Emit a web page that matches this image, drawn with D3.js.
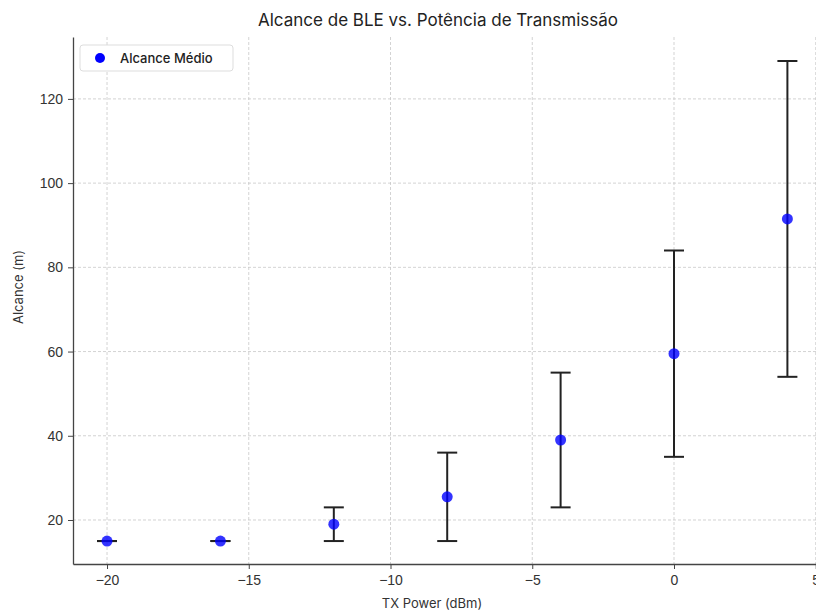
<!DOCTYPE html>
<html>
<head>
<meta charset="utf-8">
<script src="https://cdn.jsdelivr.net/npm/d3@7"></script>
<style>
  body { margin: 0; background: #fff; }
  svg { font-family: "Inter", "Open Sans", sans-serif; }
  .grid line { stroke: #c8c8c8; stroke-dasharray: 3,2; stroke-width: 0.8; }
  .axis path, .axis line { stroke: #444; }
  .axis text { fill: #333; font-size: 14px; }
</style>
</head>
<body>
<div id="chart"></div>
<script>
// data
const txPower = [-20, -16, -12, -8, -4, 0, 4];
const rangeMean = [15, 15, 19, 25.5, 39, 59.5, 91.5];
const rangeLow = [15, 15, 15, 15, 23, 35, 54];
const rangeHigh = [15, 15, 23, 36, 55, 84, 129];
const xTicks = [-20, -15, -10, -5, 0, 5];
const yTicks = [20, 40, 60, 80, 100, 120];

const W = 816, H = 612;
const margin = {top: 37, right: -4, bottom: 48, left: 73};

const svg = d3.select("#chart").append("svg")
  .attr("width", W).attr("height", H);

const x = d3.scaleLinear()
  .domain([-21.2, 5.15])
  .range([margin.left, W - margin.right]);
const y = d3.scaleLinear()
  .domain([9.55, 134.7])
  .range([H - margin.bottom, margin.top]);

// grid
const grid = svg.append("g").attr("class", "grid");
grid.selectAll(".gx").data(xTicks).join("line")
  .attr("x1", d => x(d)).attr("x2", d => x(d))
  .attr("y1", y.range()[1]).attr("y2", y.range()[0]);
grid.selectAll(".gy").data(yTicks).join("line")
  .attr("x1", x.range()[0]).attr("x2", x.range()[1])
  .attr("y1", d => y(d)).attr("y2", d => y(d));

// axes
const fmt = d => d < 0 ? "\u2212" + Math.abs(d) : d;
svg.append("g").attr("class", "axis")
  .attr("transform", `translate(0,${H - margin.bottom})`)
  .call(d3.axisBottom(x).tickValues(xTicks).tickFormat(fmt).tickSize(5).tickPadding(6).tickSizeOuter(0))
  .call(g => g.select(".domain").attr("stroke-width", 1.3));
svg.append("g").attr("class", "axis")
  .attr("transform", `translate(${margin.left},0)`)
  .call(d3.axisLeft(y).tickValues(yTicks).tickSize(5).tickPadding(5).tickSizeOuter(0))
  .call(g => g.select(".domain").attr("stroke-width", 1.3));

// error bars
const idx = d3.range(txPower.length);
const bars = svg.append("g").attr("stroke", "#222").attr("stroke-width", 2);
bars.selectAll(".v").data(idx).join("line")
  .attr("x1", i => x(txPower[i])).attr("x2", i => x(txPower[i]))
  .attr("y1", i => y(rangeLow[i])).attr("y2", i => y(rangeHigh[i]));
bars.selectAll(".lo").data(idx).join("line")
  .attr("x1", i => x(txPower[i]) - 10).attr("x2", i => x(txPower[i]) + 10)
  .attr("y1", i => y(rangeLow[i])).attr("y2", i => y(rangeLow[i]));
bars.selectAll(".hi").data(idx).join("line")
  .attr("x1", i => x(txPower[i]) - 10).attr("x2", i => x(txPower[i]) + 10)
  .attr("y1", i => y(rangeHigh[i])).attr("y2", i => y(rangeHigh[i]));

// points
svg.append("g").selectAll("circle").data(idx).join("circle")
  .attr("cx", i => x(txPower[i])).attr("cy", i => y(rangeMean[i]))
  .attr("r", 5.5).attr("fill", "blue").attr("fill-opacity", 0.8);

// title and labels
svg.append("text").attr("x", 438).attr("y", 26)
  .attr("text-anchor", "middle").attr("font-size", 17).attr("fill", "#222")
  .text("Alcance de BLE vs. Potência de Transmissão");
svg.append("text").attr("x", 432).attr("y", 608)
  .attr("text-anchor", "middle").attr("font-size", 13).attr("fill", "#333")
  .text("TX Power (dBm)");
svg.append("text").attr("transform", "translate(23,287) rotate(-90)")
  .attr("text-anchor", "middle").attr("font-size", 13).attr("fill", "#333")
  .text("Alcance (m)");

// legend
const lg = svg.append("g").attr("transform", "translate(80,45)");
lg.append("rect").attr("width", 153).attr("height", 26).attr("rx", 3)
  .attr("fill", "#fff").attr("stroke", "#ddd");
lg.append("circle").attr("cx", 20).attr("cy", 13).attr("r", 5).attr("fill", "blue");
lg.append("text").attr("x", 40).attr("y", 18).attr("font-size", 13)
  .attr("font-weight", 500).attr("fill", "#222").text("Alcance Médio");
</script>
</body>
</html>
